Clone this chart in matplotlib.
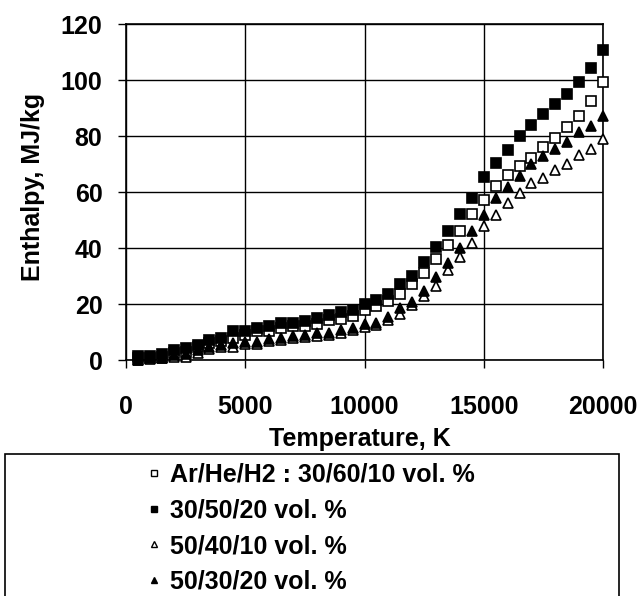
import matplotlib
matplotlib.use("Agg")
from matplotlib import pyplot as plt
from matplotlib.lines import Line2D
from matplotlib.patches import Rectangle

plt.rcParams['font.family'] = ['Liberation Sans', 'DejaVu Sans']
plt.rcParams['font.weight'] = 'bold'

temperature = [500, 1000, 1500, 2000, 2500, 3000, 3500, 4000, 4500, 5000,
               5500, 6000, 6500, 7000, 7500, 8000, 8500, 9000, 9500, 10000,
               10500, 11000, 11500, 12000, 12500, 13000, 13500, 14000, 14500, 15000,
               15500, 16000, 16500, 17000, 17500, 18000, 18500, 19000, 19500, 20000]

h_30_60_10 = [0.6, 0.8, 1.2, 2.4, 3.0, 4.6, 6.0, 6.9, 8.0, 9.0,
              10.2, 10.5, 11.4, 12.0, 12.0, 13.0, 14.2, 14.8, 15.8, 18.0,
              19.2, 21.1, 23.7, 27.0, 31.0, 36.2, 41.0, 46.0, 52.0, 57.1,
              62.0, 65.9, 69.3, 72.0, 75.9, 79.4, 83.3, 87.3, 92.4, 99.3]

h_30_50_20 = [1.4, 1.4, 2.0, 3.6, 4.2, 5.4, 7.2, 8.0, 10.2, 10.2,
              11.4, 12.3, 13.2, 13.2, 14.1, 15.1, 16.0, 17.0, 18.0, 20.0,
              21.4, 23.6, 27.1, 30.0, 35.0, 40.2, 46.2, 52.2, 58.0, 65.4,
              70.3, 75.0, 80.0, 83.8, 88.0, 91.3, 95.0, 99.2, 104.3, 110.7]

h_50_40_10 = [0.0, 0.3, 0.6, 1.2, 1.2, 2.6, 3.9, 4.6, 4.8, 5.8,
              5.8, 6.9, 7.2, 7.8, 8.3, 8.6, 9.0, 9.8, 10.8, 11.8,
              12.6, 14.4, 16.6, 19.5, 22.9, 26.6, 32.1, 36.7, 41.7, 47.9,
              51.8, 56.0, 59.7, 63.1, 65.0, 67.8, 70.0, 73.1, 75.5, 79.1]

h_50_30_20 = [0.0, 0.6, 0.8, 1.8, 2.0, 3.4, 4.5, 5.4, 6.0, 6.6,
              6.6, 7.5, 7.8, 8.7, 9.0, 9.5, 9.7, 10.6, 11.6, 12.8,
              13.2, 15.4, 18.6, 20.8, 24.8, 29.7, 34.7, 39.9, 45.9, 51.8,
              57.9, 61.8, 65.8, 69.9, 72.9, 75.5, 78.0, 81.3, 83.6, 87.3]

labels = ["Ar/He/H2 : 30/60/10 vol. %", "30/50/20 vol. %",
          "50/40/10 vol. %", "50/30/20 vol. %"]

W, H = 641, 596
fig = plt.figure(figsize=(W/100, H/100), dpi=100)
ax = fig.add_axes([126/W, 1-360/H, (603-126)/W, (360-24)/H])

series = [(h_30_60_10, 's', 'white'), (h_30_50_20, 's', 'black'),
          (h_50_40_10, '^', 'white'), (h_50_30_20, '^', 'black')]
for vals, m, fc in series:
    ax.plot(temperature, vals, m, mfc=fc, mec='black', mew=1.2, ms=6.5,
            linestyle='none', clip_on=False, zorder=3)

ax.set_xlim(0, 20000)
ax.set_ylim(0, 120)
ax.set_xticks([0, 5000, 10000, 15000, 20000])
ax.set_yticks([0, 20, 40, 60, 80, 100, 120])
ax.grid(True, color='black', linewidth=1.0)
ax.set_axisbelow(True)
for s in ax.spines.values():
    s.set_linewidth(1.2)
ax.tick_params(axis='x', length=6, width=1, pad=19, labelsize=18)
ax.tick_params(axis='y', length=6, width=1, pad=11, labelsize=18)
for t in ax.get_xticklabels() + ax.get_yticklabels():
    t.set_fontweight('bold')

fig.text(360/W, 1-439/H, "Temperature, K", ha='center', va='center',
         fontsize=18, fontweight='bold')
fig.text(33/W, 1-187/H, "Enthalpy, MJ/kg", ha='center', va='center',
         rotation=90, fontsize=18, fontweight='bold')

# legend box, cut off at the bottom like the scan
fig.patches.append(Rectangle((5/W, -0.05), (619-5)/W, 0.05+1-454/H,
                             transform=fig.transFigure, fill=False,
                             edgecolor='black', linewidth=1.2))
handles = [Line2D([], [], marker=m, mfc=fc, mec='black', mew=1, ms=5,
                  linestyle='none') for _, m, fc in series]
leg = fig.legend(handles, labels, loc='upper left',
                 bbox_to_anchor=(130/W, 1-445/H), frameon=False,
                 prop={'size': 18, 'weight': 'bold'}, handlelength=0.5,
                 handletextpad=0.4, labelspacing=0.47, borderpad=0.2)

fig.savefig("out.png", dpi=100)
